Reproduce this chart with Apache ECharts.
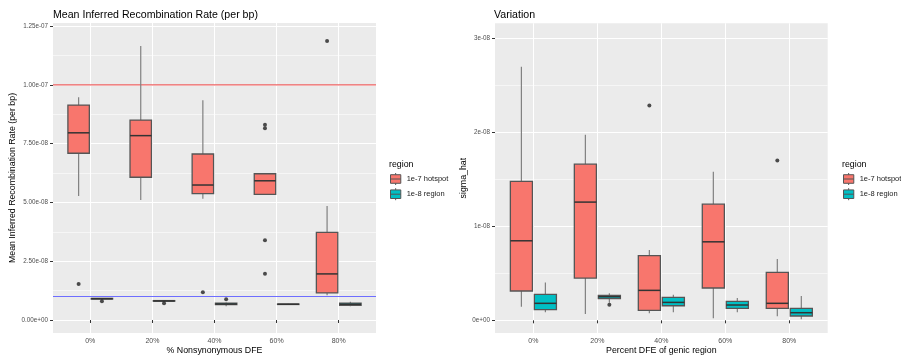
<!DOCTYPE html>
<html><head><meta charset="utf-8">
<script src="https://cdn.jsdelivr.net/npm/echarts@6/dist/echarts.min.js"></script>
<style>html,body{margin:0;padding:0;background:#fff}#c{width:901px;height:358px}</style>
</head><body><div id="c"></div>
<script>
// ---------- data ----------
const categories = ['0%', '20%', '40%', '60%', '80%'];
const seriesNames = ['1e-7 hotspot', '1e-8 region'];
// box stats: [min, q1, median, q3, max]
const leftHotspot = [
  [5.27e-8, 7.09e-8, 7.96e-8, 9.14e-8, 9.47e-8],
  [5.10e-8, 6.07e-8, 7.84e-8, 8.50e-8, 11.65e-8],
  [5.16e-8, 5.37e-8, 5.74e-8, 7.06e-8, 9.35e-8],
  [5.34e-8, 5.34e-8, 5.92e-8, 6.22e-8, 6.22e-8],
  [1.05e-8, 1.15e-8, 1.96e-8, 3.73e-8, 4.85e-8]
];
const leftRegion = [
  [0.86e-8, 0.89e-8, 0.905e-8, 0.92e-8, 0.93e-8],
  [0.79e-8, 0.80e-8, 0.81e-8, 0.825e-8, 0.83e-8],
  [0.58e-8, 0.65e-8, 0.68e-8, 0.72e-8, 0.74e-8],
  [0.65e-8, 0.66e-8, 0.67e-8, 0.68e-8, 0.69e-8],
  [0.58e-8, 0.62e-8, 0.67e-8, 0.72e-8, 0.78e-8]
];
const leftHotspotOutliers = [[0, 1.53e-8], [2, 1.18e-8], [3, 8.30e-8], [3, 8.15e-8], [3, 3.39e-8], [3, 1.97e-8], [4, 11.86e-8]];
const leftRegionOutliers = [[0, 0.795e-8], [1, 0.71e-8], [2, 0.88e-8]];
const leftRefLines = [1e-7, 1e-8];

const rightHotspot = [
  [0.145e-8, 0.312e-8, 0.847e-8, 1.479e-8, 2.70e-8],
  [0.067e-8, 0.45e-8, 1.259e-8, 1.663e-8, 1.975e-8],
  [0.074e-8, 0.106e-8, 0.319e-8, 0.69e-8, 0.748e-8],
  [0.021e-8, 0.344e-8, 0.836e-8, 1.237e-8, 1.581e-8],
  [0.043e-8, 0.128e-8, 0.181e-8, 0.511e-8, 0.652e-8]
];
const rightRegion = [
  [0.085e-8, 0.113e-8, 0.181e-8, 0.277e-8, 0.404e-8],
  [0.187e-8, 0.23e-8, 0.251e-8, 0.266e-8, 0.287e-8],
  [0.085e-8, 0.155e-8, 0.191e-8, 0.245e-8, 0.272e-8],
  [0.085e-8, 0.128e-8, 0.163e-8, 0.202e-8, 0.237e-8],
  [0.011e-8, 0.046e-8, 0.081e-8, 0.128e-8, 0.259e-8]
];
const rightHotspotOutliers = [[2, 2.287e-8], [4, 1.702e-8]];
const rightRegionOutliers = [[1, 0.166e-8]];

const leftYTickValues = [0, 2.5e-8, 5e-8, 7.5e-8, 1e-7, 1.25e-7];
const leftYTickLabels = ['0.00e+00', '2.50e-08', '5.00e-08', '7.50e-08', '1.00e-07', '1.25e-07'];
const leftYMinor = [1.25e-8, 3.75e-8, 6.25e-8, 8.75e-8, 11.25e-8];
const leftYRange = [-0.553e-8, 1.263e-7];
const rightYTickValues = [0, 1e-8, 2e-8, 3e-8];
const rightYTickLabels = ['0e+00', '1e-08', '2e-08', '3e-08'];
const rightYMinor = [0.5e-8, 1.5e-8, 2.5e-8];
const rightYRange = [-0.135e-8, 3.163e-8];

// ---------- helpers ----------
// values are tiny; the axes work in units of 1e-8 to avoid float precision issues
const UNIT = 1e-8;
const u = v => v / UNIT;
const FONT = 'Liberation Sans, Arial, sans-serif';
const COLORS = ['#F8766D', '#00BFC4'];
const OFFSETS = [-0.1875, 0.1875];
const HALF = 0.1725;
const X_MIN = 0.4, X_MAX = 5.6;
const xPos = [1, 2, 3, 4, 5];

function labelFor(vals, labels) {
  return function (v) {
    for (let i = 0; i < vals.length; i++) if (Math.abs(v - u(vals[i])) < 1e-6) return labels[i];
    return '';
  };
}

function xAxisFor(gi, name) {
  return {
    type: 'value', gridIndex: gi, min: X_MIN, max: X_MAX,
    axisLine: { show: false },
    axisTick: { show: true, length: 3, lineStyle: { color: '#333', width: 1 }, customValues: xPos },
    axisLabel: { customValues: xPos, formatter: v => categories[Math.round(v) - 1], color: '#4d4d4d', fontSize: 7, fontFamily: FONT, margin: 5 },
    splitLine: { show: true, lineStyle: { color: '#ffffff', width: 1 } },
    name: name, nameLocation: 'middle', nameGap: 13.5, nameMoveOverlap: false,
    nameTextStyle: { fontSize: 8.8, color: '#000', fontFamily: FONT }
  };
}
function yAxisFor(gi, range, vals, labels, name, gap) {
  const cv = vals.map(u);
  return {
    type: 'value', gridIndex: gi, min: u(range[0]), max: u(range[1]),
    axisLine: { show: false },
    axisTick: { show: true, length: 3, lineStyle: { color: '#333', width: 1 }, customValues: cv },
    axisLabel: { customValues: cv, formatter: labelFor(vals, labels), color: '#4d4d4d', fontSize: 6.3, fontFamily: FONT, margin: 5 },
    splitLine: { show: true, lineStyle: { color: '#ffffff', width: 1 } },
    name: name, nameLocation: 'middle', nameGap: gap, nameMoveOverlap: false,
    nameTextStyle: { fontSize: 8.8, color: '#000', fontFamily: FONT }
  };
}
function minorYAxis(gi, range, vals) {
  const cv = vals.map(u);
  return {
    type: 'value', gridIndex: gi, min: u(range[0]), max: u(range[1]), position: 'left',
    axisLine: { show: false }, axisLabel: { show: false },
    axisTick: { show: false, customValues: cv },
    splitLine: { show: true, lineStyle: { color: '#f6f6f6', width: 1 } }
  };
}

function boxSeries(name, stats, si, xi, yi) {
  const color = COLORS[si];
  return {
    type: 'custom', name: name, xAxisIndex: xi, yAxisIndex: yi,
    data: stats.map((d, i) => [xPos[i] + OFFSETS[si]].concat(d.map(u))),
    encode: { x: 0, y: [1, 2, 3, 4, 5] },
    itemStyle: { color: color },
    z: 3,
    renderItem: function (params, api) {
      const x = api.value(0);
      const pMin = api.coord([x, api.value(1)]);
      const pQ1 = api.coord([x, api.value(2)]);
      const pMed = api.coord([x, api.value(3)]);
      const pQ3 = api.coord([x, api.value(4)]);
      const pMax = api.coord([x, api.value(5)]);
      const l = api.coord([x - HALF, api.value(3)])[0];
      const r = api.coord([x + HALF, api.value(3)])[0];
      return {
        type: 'group', children: [
          { type: 'line', shape: { x1: pMax[0], y1: pMax[1], x2: pQ3[0], y2: pQ3[1] }, style: { stroke: '#808080', lineWidth: 1.2 } },
          { type: 'line', shape: { x1: pMin[0], y1: pMin[1], x2: pQ1[0], y2: pQ1[1] }, style: { stroke: '#808080', lineWidth: 1.2 } },
          { type: 'rect', shape: { x: l, y: pQ3[1], width: r - l, height: pQ1[1] - pQ3[1] }, style: { fill: color, stroke: '#555555', lineWidth: 1.3 } },
          { type: 'line', shape: { x1: l, y1: pMed[1], x2: r, y2: pMed[1] }, style: { stroke: '#333333', lineWidth: 1.5 } }
        ]
      };
    }
  };
}
function outlierSeries(name, pts, si, xi, yi) {
  return {
    type: 'scatter', name: name, xAxisIndex: xi, yAxisIndex: yi,
    data: pts.map(p => [xPos[p[0]] + OFFSETS[si], u(p[1])]),
    symbol: 'circle', symbolSize: 4, itemStyle: { color: '#222' }, z: 4, silent: true
  };
}
const refColors = ['#ee6262', '#6e6eff'];
function refLineSeries(v, i) {
  return {
    type: 'line', name: 'ref' + i, xAxisIndex: 0, yAxisIndex: 0,
    data: [[X_MIN, u(v)], [X_MAX, u(v)]],
    symbol: 'none', silent: true, z: 2,
    lineStyle: { color: refColors[i], width: 1.2 }
  };
}

const keyIcon = 'path://M7,0V2M1,2H13V12H1ZM1,7H13M7,12V14';
function legendFor(left) {
  return {
    orient: 'vertical', left: left, top: 172.5, padding: 0,
    itemWidth: 12, itemHeight: 12, itemGap: 2.2,
    textStyle: { fontSize: 7.5, color: '#1a1a1a', fontFamily: FONT },
    data: seriesNames.map((n, i) => ({ name: n, icon: keyIcon, itemStyle: { color: COLORS[i], borderColor: '#555', borderWidth: 1 } })),
    selectedMode: false
  };
}

const titleStyle = { fontSize: 10.6, fontWeight: 'normal', color: '#000', fontFamily: FONT };
const legTitleStyle = { fontSize: 8.8, fontWeight: 'normal', color: '#000', fontFamily: FONT };

const option = {
  animation: false,
  backgroundColor: '#ffffff',
  title: [
    { text: 'Mean Inferred Recombination Rate (per bp)', left: 53, top: 9.4, padding: 0, textStyle: titleStyle },
    { text: 'Variation', left: 494, top: 9.4, padding: 0, textStyle: titleStyle },
    { text: 'region', left: 389, top: 159.6, padding: 0, textStyle: legTitleStyle },
    { text: 'region', left: 842, top: 159.6, padding: 0, textStyle: legTitleStyle }
  ],
  legend: [legendFor(390), legendFor(843)],
  grid: [
    { left: 53, top: 23, width: 323, height: 310, show: true, backgroundColor: '#EBEBEB', borderWidth: 0, containLabel: false, outerBoundsMode: 'none' },
    { left: 495, top: 23.3, width: 332.7, height: 309.7, show: true, backgroundColor: '#EBEBEB', borderWidth: 0, containLabel: false, outerBoundsMode: 'none' }
  ],
  xAxis: [xAxisFor(0, '% Nonsynonymous DFE'), xAxisFor(1, 'Percent DFE of genic region')],
  yAxis: [
    yAxisFor(0, leftYRange, leftYTickValues, leftYTickLabels, 'Mean Inferred Recombination Rate (per bp)', 35.5),
    yAxisFor(1, rightYRange, rightYTickValues, rightYTickLabels, 'sigma_hat', 27),
    minorYAxis(0, leftYRange, leftYMinor),
    minorYAxis(1, rightYRange, rightYMinor)
  ],
  series: [
    refLineSeries(leftRefLines[0], 0),
    refLineSeries(leftRefLines[1], 1),
    boxSeries(seriesNames[0], leftHotspot, 0, 0, 0),
    boxSeries(seriesNames[1], leftRegion, 1, 0, 0),
    outlierSeries('out-l-h', leftHotspotOutliers, 0, 0, 0),
    outlierSeries('out-l-r', leftRegionOutliers, 1, 0, 0),
    boxSeries(seriesNames[0], rightHotspot, 0, 1, 1),
    boxSeries(seriesNames[1], rightRegion, 1, 1, 1),
    outlierSeries('out-r-h', rightHotspotOutliers, 0, 1, 1),
    outlierSeries('out-r-r', rightRegionOutliers, 1, 1, 1)
  ]
};

const chart = echarts.init(document.getElementById('c'), null, { renderer: 'canvas' });
chart.setOption(option);
</script>
</body></html>
